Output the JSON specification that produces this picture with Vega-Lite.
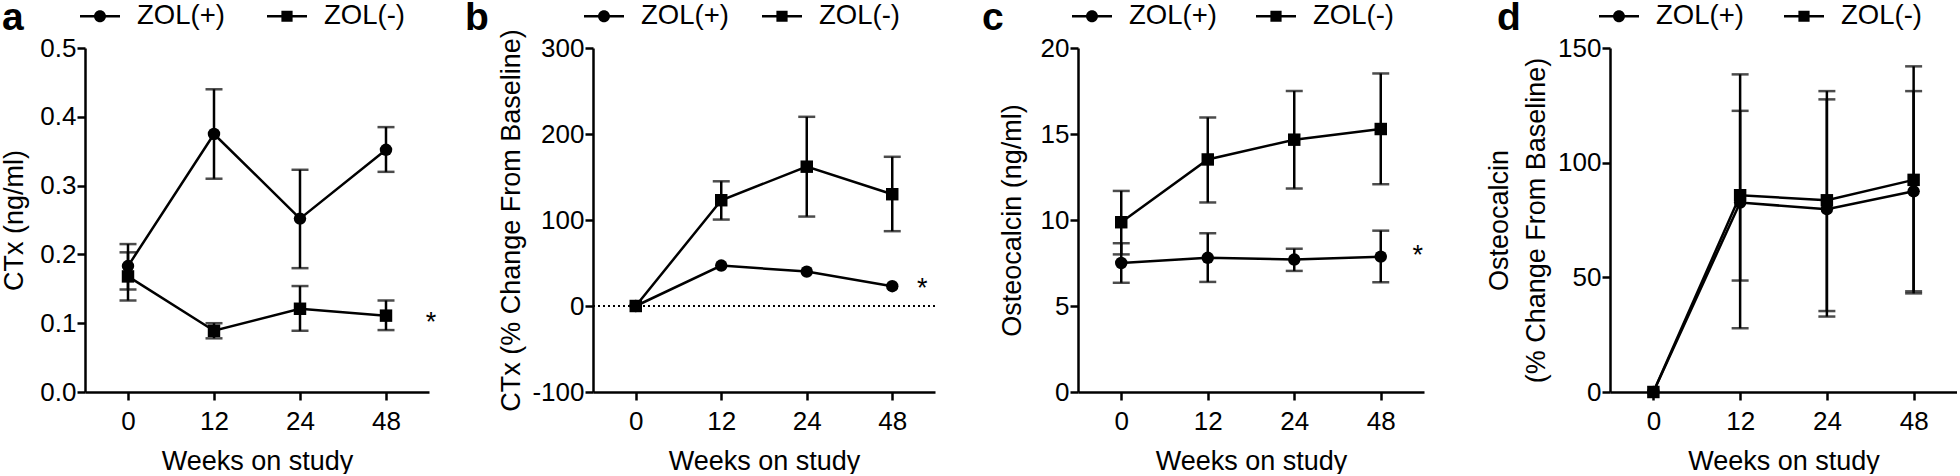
{
  "$schema": "https://vega.github.io/schema/vega-lite/v6.json",
  "background": "white",
  "padding": {"left": 0, "top": -4, "right": 0, "bottom": 0},
  "config": {
    "font": "Liberation Sans",
    "view": {"stroke": null},
    "axis": {"domainColor": "black", "domainWidth": 2.5, "tickColor": "black", "tickWidth": 2.5, "tickSize": 8, "labelFont": "Liberation Sans", "labelFontSize": 26, "labelColor": "black", "titleFont": "Liberation Sans", "titleFontSize": 27, "titleFontWeight": "normal", "titleColor": "black", "grid": false, "labelOverlap": false},
    "legend": {"orient": "none", "direction": "horizontal", "padding": 0, "offset": 0, "titleOrient": "left", "titleAnchor": "end", "titleBaseline": "alphabetic", "titleFont": "Liberation Sans", "titleFontSize": 39, "titleFontWeight": "bold", "titleColor": "black", "symbolSize": 1600, "symbolStrokeWidth": 0, "symbolFillColor": "black", "symbolOpacity": 1, "labelFont": "Liberation Sans", "labelFontSize": 27.5, "labelColor": "black", "labelOffset": 17, "columnPadding": 33}
  },
  "datasets": {
    "a": [
      {"week": 0, "grp": "ZOL(+)", "mean": 0.183, "lo": 0.149, "hi": 0.215},
      {"week": 12, "grp": "ZOL(+)", "mean": 0.375, "lo": 0.31, "hi": 0.44},
      {"week": 24, "grp": "ZOL(+)", "mean": 0.252, "lo": 0.18, "hi": 0.323},
      {"week": 48, "grp": "ZOL(+)", "mean": 0.352, "lo": 0.32, "hi": 0.385},
      {"week": 0, "grp": "ZOL(-)", "mean": 0.168, "lo": 0.133, "hi": 0.203},
      {"week": 12, "grp": "ZOL(-)", "mean": 0.089, "lo": 0.078, "hi": 0.1},
      {"week": 24, "grp": "ZOL(-)", "mean": 0.121, "lo": 0.089, "hi": 0.154},
      {"week": 48, "grp": "ZOL(-)", "mean": 0.111, "lo": 0.09, "hi": 0.133}
    ],
    "b": [
      {"week": 0, "grp": "ZOL(+)", "mean": 0},
      {"week": 12, "grp": "ZOL(+)", "mean": 47},
      {"week": 24, "grp": "ZOL(+)", "mean": 40},
      {"week": 48, "grp": "ZOL(+)", "mean": 23},
      {"week": 0, "grp": "ZOL(-)", "mean": 0},
      {"week": 12, "grp": "ZOL(-)", "mean": 123, "lo": 100.5, "hi": 145},
      {"week": 24, "grp": "ZOL(-)", "mean": 162, "lo": 104, "hi": 220},
      {"week": 48, "grp": "ZOL(-)", "mean": 130, "lo": 87, "hi": 173.5}
    ],
    "c": [
      {"week": 0, "grp": "ZOL(+)", "mean": 7.5, "lo": 6.35, "hi": 8.65},
      {"week": 12, "grp": "ZOL(+)", "mean": 7.8, "lo": 6.4, "hi": 9.23},
      {"week": 24, "grp": "ZOL(+)", "mean": 7.7, "lo": 7.04, "hi": 8.33},
      {"week": 48, "grp": "ZOL(+)", "mean": 7.87, "lo": 6.38, "hi": 9.38},
      {"week": 0, "grp": "ZOL(-)", "mean": 9.87, "lo": 8.0, "hi": 11.69},
      {"week": 12, "grp": "ZOL(-)", "mean": 13.52, "lo": 11.02, "hi": 15.96},
      {"week": 24, "grp": "ZOL(-)", "mean": 14.67, "lo": 11.83, "hi": 17.5},
      {"week": 48, "grp": "ZOL(-)", "mean": 15.29, "lo": 12.08, "hi": 18.52}
    ],
    "d": [
      {"week": 0, "grp": "ZOL(+)", "mean": 0},
      {"week": 12, "grp": "ZOL(+)", "mean": 82.6, "lo": 27.8, "hi": 138.5},
      {"week": 24, "grp": "ZOL(+)", "mean": 79.7, "lo": 32.9, "hi": 127.6},
      {"week": 48, "grp": "ZOL(+)", "mean": 87.5, "lo": 43.9, "hi": 131.2},
      {"week": 0, "grp": "ZOL(-)", "mean": 0},
      {"week": 12, "grp": "ZOL(-)", "mean": 85.8, "lo": 48.6, "hi": 122.6},
      {"week": 24, "grp": "ZOL(-)", "mean": 83.6, "lo": 35.3, "hi": 131.2},
      {"week": 48, "grp": "ZOL(-)", "mean": 92.5, "lo": 43, "hi": 142}
    ]
  },
  "bounds": "flush",
  "spacing": 0,
  "resolve": {"scale": {"shape": "independent"}, "legend": {"shape": "independent"}},
  "hconcat": [
    {
      "width": 508, "height": 344,
      "data": {"name": "a"},
      "resolve": {"scale": {"shape": "independent"}, "legend": {"shape": "independent"}},
      "layer": [
        {"transform": [{"filter": "isValid(datum.lo)"}],
         "mark": {"type": "errorbar", "ticks": {"size": 17, "thickness": 2.5, "color": "black"}, "rule": {"strokeWidth": 2.5, "color": "black"}},
         "encoding": {
           "x": {"field": "week", "type": "ordinal", "sort": [0, 12, 24, 48], "scale": {"type": "point", "padding": 0.5, "range": [0, 344]}, "axis": {"title": "Weeks on study", "labelAngle": 0, "titleY": 77, "titleBaseline": "alphabetic", "labelPadding": 8}},
           "y": {"field": "lo", "type": "quantitative", "scale": {"domain": [0, 0.5], "nice": false, "zero": false}, "axis": {"title": "CTx (ng/ml)", "values": [0, 0.1, 0.2, 0.3, 0.4, 0.5], "format": ".1f", "titleX": -63, "titleBaseline": "alphabetic", "labelPadding": 1}},
           "y2": {"field": "hi"}}},
        {"mark": {"type": "line", "color": "black", "strokeWidth": 2.5},
         "encoding": {
           "x": {"field": "week", "type": "ordinal", "sort": [0, 12, 24, 48], "scale": {"type": "point", "padding": 0.5, "range": [0, 344]}, "axis": {"title": "Weeks on study", "labelAngle": 0, "titleY": 77, "titleBaseline": "alphabetic", "labelPadding": 8}},
           "y": {"field": "mean", "type": "quantitative", "scale": {"domain": [0, 0.5], "nice": false, "zero": false}, "axis": {"title": "CTx (ng/ml)", "values": [0, 0.1, 0.2, 0.3, 0.4, 0.5], "format": ".1f", "titleX": -63, "titleBaseline": "alphabetic", "labelPadding": 1}},
           "detail": {"field": "grp"}}},
        {"mark": {"type": "point", "filled": true, "color": "black", "opacity": 0, "size": 1},
         "encoding": {
           "x": {"field": "week", "type": "ordinal", "sort": [0, 12, 24, 48], "scale": {"type": "point", "padding": 0.5, "range": [0, 344]}, "axis": {"title": "Weeks on study", "labelAngle": 0, "titleY": 77, "titleBaseline": "alphabetic", "labelPadding": 8}},
           "y": {"field": "mean", "type": "quantitative", "scale": {"domain": [0, 0.5], "nice": false, "zero": false}, "axis": {"title": "CTx (ng/ml)", "values": [0, 0.1, 0.2, 0.3, 0.4, 0.5], "format": ".1f", "titleX": -63, "titleBaseline": "alphabetic", "labelPadding": 1}},
           "shape": {"field": "grp", "type": "nominal", "scale": {"domain": ["ZOL(+)", "ZOL(-)"], "range": ["M-1,-0.0625H1V0.0625H-1ZM0.3,0A0.3,0.3,0,1,1,-0.3,0A0.3,0.3,0,1,1,0.3,0Z", "M-1,-0.0625H1V0.0625H-1ZM-0.28,-0.28H0.28V0.28H-0.28Z"]},
             "legend": {"title": "a", "legendX": -83, "legendY": -52, "titlePadding": 56, "columnPadding": 42}}}},
        {"mark": {"type": "point", "filled": true, "color": "black", "opacity": 1, "size": 155},
         "encoding": {
           "x": {"field": "week", "type": "ordinal", "sort": [0, 12, 24, 48], "scale": {"type": "point", "padding": 0.5, "range": [0, 344]}, "axis": {"title": "Weeks on study", "labelAngle": 0, "titleY": 77, "titleBaseline": "alphabetic", "labelPadding": 8}},
           "y": {"field": "mean", "type": "quantitative", "scale": {"domain": [0, 0.5], "nice": false, "zero": false}, "axis": {"title": "CTx (ng/ml)", "values": [0, 0.1, 0.2, 0.3, 0.4, 0.5], "format": ".1f", "titleX": -63, "titleBaseline": "alphabetic", "labelPadding": 1}},
           "shape": {"field": "grp", "type": "nominal", "scale": {"domain": ["ZOL(+)", "ZOL(-)"], "range": ["circle", "square"]}, "legend": null}}},
        {"data": {"values": [{"week": 48, "mean": 0.089, "label": "*"}]},
         "mark": {"type": "text", "fontSize": 27, "dx": 45, "baseline": "alphabetic", "align": "center", "color": "black"},
         "encoding": {
           "x": {"field": "week", "type": "ordinal", "sort": [0, 12, 24, 48], "scale": {"type": "point", "padding": 0.5, "range": [0, 344]}, "axis": {"title": "Weeks on study", "labelAngle": 0, "titleY": 77, "titleBaseline": "alphabetic", "labelPadding": 8}},
           "y": {"field": "mean", "type": "quantitative", "scale": {"domain": [0, 0.5], "nice": false, "zero": false}, "axis": {"title": "CTx (ng/ml)", "values": [0, 0.1, 0.2, 0.3, 0.4, 0.5], "format": ".1f", "titleX": -63, "titleBaseline": "alphabetic", "labelPadding": 1}},
           "text": {"field": "label"}}}
      ]
    },
    {
      "width": 342, "height": 344,
      "data": {"name": "b"},
      "resolve": {"scale": {"shape": "independent"}, "legend": {"shape": "independent"}},
      "layer": [
        {"mark": {"type": "rule", "strokeDash": [2, 3], "strokeWidth": 1.3, "color": "black"},
         "encoding": {"y": {"datum": 0, "type": "quantitative", "scale": {"domain": [-100, 300], "nice": false, "zero": false}, "axis": {"title": "CTx (% Change From Baseline)", "values": [-100, 0, 100, 200, 300], "labelExpr": "'' + datum.value", "titleX": -74, "titleBaseline": "alphabetic", "labelPadding": 1}}}},
        {"transform": [{"filter": "isValid(datum.lo)"}],
         "mark": {"type": "errorbar", "ticks": {"size": 17, "thickness": 2.5, "color": "black"}, "rule": {"strokeWidth": 2.5, "color": "black"}},
         "encoding": {
           "x": {"field": "week", "type": "ordinal", "sort": [0, 12, 24, 48], "scale": {"type": "point", "padding": 0.5, "range": [0, 342]}, "axis": {"title": "Weeks on study", "labelAngle": 0, "titleY": 77, "titleBaseline": "alphabetic", "labelPadding": 8}},
           "y": {"field": "lo", "type": "quantitative", "scale": {"domain": [-100, 300], "nice": false, "zero": false}, "axis": {"title": "CTx (% Change From Baseline)", "values": [-100, 0, 100, 200, 300], "labelExpr": "'' + datum.value", "titleX": -74, "titleBaseline": "alphabetic", "labelPadding": 1}},
           "y2": {"field": "hi"}}},
        {"mark": {"type": "line", "color": "black", "strokeWidth": 2.5},
         "encoding": {
           "x": {"field": "week", "type": "ordinal", "sort": [0, 12, 24, 48], "scale": {"type": "point", "padding": 0.5, "range": [0, 342]}, "axis": {"title": "Weeks on study", "labelAngle": 0, "titleY": 77, "titleBaseline": "alphabetic", "labelPadding": 8}},
           "y": {"field": "mean", "type": "quantitative", "scale": {"domain": [-100, 300], "nice": false, "zero": false}, "axis": {"title": "CTx (% Change From Baseline)", "values": [-100, 0, 100, 200, 300], "labelExpr": "'' + datum.value", "titleX": -74, "titleBaseline": "alphabetic", "labelPadding": 1}},
           "detail": {"field": "grp"}}},
        {"mark": {"type": "point", "filled": true, "color": "black", "opacity": 0, "size": 1},
         "encoding": {
           "x": {"field": "week", "type": "ordinal", "sort": [0, 12, 24, 48], "scale": {"type": "point", "padding": 0.5, "range": [0, 342]}, "axis": {"title": "Weeks on study", "labelAngle": 0, "titleY": 77, "titleBaseline": "alphabetic", "labelPadding": 8}},
           "y": {"field": "mean", "type": "quantitative", "scale": {"domain": [-100, 300], "nice": false, "zero": false}, "axis": {"title": "CTx (% Change From Baseline)", "values": [-100, 0, 100, 200, 300], "labelExpr": "'' + datum.value", "titleX": -74, "titleBaseline": "alphabetic", "labelPadding": 1}},
           "shape": {"field": "grp", "type": "nominal", "scale": {"domain": ["ZOL(+)", "ZOL(-)"], "range": ["M-1,-0.0625H1V0.0625H-1ZM0.3,0A0.3,0.3,0,1,1,-0.3,0A0.3,0.3,0,1,1,0.3,0Z", "M-1,-0.0625H1V0.0625H-1ZM-0.28,-0.28H0.28V0.28H-0.28Z"]},
             "legend": {"title": "b", "legendX": -128, "legendY": -52, "titlePadding": 95, "columnPadding": 33}}}},
        {"mark": {"type": "point", "filled": true, "color": "black", "opacity": 1, "size": 155},
         "encoding": {
           "x": {"field": "week", "type": "ordinal", "sort": [0, 12, 24, 48], "scale": {"type": "point", "padding": 0.5, "range": [0, 342]}, "axis": {"title": "Weeks on study", "labelAngle": 0, "titleY": 77, "titleBaseline": "alphabetic", "labelPadding": 8}},
           "y": {"field": "mean", "type": "quantitative", "scale": {"domain": [-100, 300], "nice": false, "zero": false}, "axis": {"title": "CTx (% Change From Baseline)", "values": [-100, 0, 100, 200, 300], "labelExpr": "'' + datum.value", "titleX": -74, "titleBaseline": "alphabetic", "labelPadding": 1}},
           "shape": {"field": "grp", "type": "nominal", "scale": {"domain": ["ZOL(+)", "ZOL(-)"], "range": ["circle", "square"]}, "legend": null}}},
        {"data": {"values": [{"week": 48, "mean": 10, "label": "*"}]},
         "mark": {"type": "text", "fontSize": 27, "dx": 30, "baseline": "alphabetic", "align": "center", "color": "black"},
         "encoding": {
           "x": {"field": "week", "type": "ordinal", "sort": [0, 12, 24, 48], "scale": {"type": "point", "padding": 0.5, "range": [0, 342]}, "axis": {"title": "Weeks on study", "labelAngle": 0, "titleY": 77, "titleBaseline": "alphabetic", "labelPadding": 8}},
           "y": {"field": "mean", "type": "quantitative", "scale": {"domain": [-100, 300], "nice": false, "zero": false}, "axis": {"title": "CTx (% Change From Baseline)", "values": [-100, 0, 100, 200, 300], "labelExpr": "'' + datum.value", "titleX": -74, "titleBaseline": "alphabetic", "labelPadding": 1}},
           "text": {"field": "label"}}}
      ]
    },
    {
      "width": 675, "height": 344,
      "data": {"name": "c"},
      "resolve": {"scale": {"shape": "independent"}, "legend": {"shape": "independent"}},
      "layer": [
        {"transform": [{"filter": "isValid(datum.lo)"}],
         "mark": {"type": "errorbar", "ticks": {"size": 17, "thickness": 2.5, "color": "black"}, "rule": {"strokeWidth": 2.5, "color": "black"}},
         "encoding": {
           "x": {"field": "week", "type": "ordinal", "sort": [0, 12, 24, 48], "scale": {"type": "point", "padding": 0.5, "range": [143, 489]}, "axis": {"title": "Weeks on study", "labelAngle": 0, "titleY": 77, "titleBaseline": "alphabetic", "labelPadding": 8}},
           "y": {"field": "lo", "type": "quantitative", "scale": {"domain": [0, 20], "nice": false, "zero": false}, "axis": {"title": "Osteocalcin (ng/ml)", "values": [0, 5, 10, 15, 20], "titleX": -58, "titleBaseline": "alphabetic", "labelPadding": 1, "offset": -143}},
           "y2": {"field": "hi"}}},
        {"mark": {"type": "line", "color": "black", "strokeWidth": 2.5},
         "encoding": {
           "x": {"field": "week", "type": "ordinal", "sort": [0, 12, 24, 48], "scale": {"type": "point", "padding": 0.5, "range": [143, 489]}, "axis": {"title": "Weeks on study", "labelAngle": 0, "titleY": 77, "titleBaseline": "alphabetic", "labelPadding": 8}},
           "y": {"field": "mean", "type": "quantitative", "scale": {"domain": [0, 20], "nice": false, "zero": false}, "axis": {"title": "Osteocalcin (ng/ml)", "values": [0, 5, 10, 15, 20], "titleX": -58, "titleBaseline": "alphabetic", "labelPadding": 1, "offset": -143}},
           "detail": {"field": "grp"}}},
        {"mark": {"type": "point", "filled": true, "color": "black", "opacity": 0, "size": 1},
         "encoding": {
           "x": {"field": "week", "type": "ordinal", "sort": [0, 12, 24, 48], "scale": {"type": "point", "padding": 0.5, "range": [143, 489]}, "axis": {"title": "Weeks on study", "labelAngle": 0, "titleY": 77, "titleBaseline": "alphabetic", "labelPadding": 8}},
           "y": {"field": "mean", "type": "quantitative", "scale": {"domain": [0, 20], "nice": false, "zero": false}, "axis": {"title": "Osteocalcin (ng/ml)", "values": [0, 5, 10, 15, 20], "titleX": -58, "titleBaseline": "alphabetic", "labelPadding": 1, "offset": -143}},
           "shape": {"field": "grp", "type": "nominal", "scale": {"domain": ["ZOL(+)", "ZOL(-)"], "range": ["M-1,-0.0625H1V0.0625H-1ZM0.3,0A0.3,0.3,0,1,1,-0.3,0A0.3,0.3,0,1,1,0.3,0Z", "M-1,-0.0625H1V0.0625H-1ZM-0.28,-0.28H0.28V0.28H-0.28Z"]},
             "legend": {"title": "c", "legendX": 47, "legendY": -52, "titlePadding": 68, "columnPadding": 39}}}},
        {"mark": {"type": "point", "filled": true, "color": "black", "opacity": 1, "size": 155},
         "encoding": {
           "x": {"field": "week", "type": "ordinal", "sort": [0, 12, 24, 48], "scale": {"type": "point", "padding": 0.5, "range": [143, 489]}, "axis": {"title": "Weeks on study", "labelAngle": 0, "titleY": 77, "titleBaseline": "alphabetic", "labelPadding": 8}},
           "y": {"field": "mean", "type": "quantitative", "scale": {"domain": [0, 20], "nice": false, "zero": false}, "axis": {"title": "Osteocalcin (ng/ml)", "values": [0, 5, 10, 15, 20], "titleX": -58, "titleBaseline": "alphabetic", "labelPadding": 1, "offset": -143}},
           "shape": {"field": "grp", "type": "nominal", "scale": {"domain": ["ZOL(+)", "ZOL(-)"], "range": ["circle", "square"]}, "legend": null}}},
        {"data": {"values": [{"week": 48, "mean": 7.45, "label": "*"}]},
         "mark": {"type": "text", "fontSize": 27, "dx": 37, "baseline": "alphabetic", "align": "center", "color": "black"},
         "encoding": {
           "x": {"field": "week", "type": "ordinal", "sort": [0, 12, 24, 48], "scale": {"type": "point", "padding": 0.5, "range": [143, 489]}, "axis": {"title": "Weeks on study", "labelAngle": 0, "titleY": 77, "titleBaseline": "alphabetic", "labelPadding": 8}},
           "y": {"field": "mean", "type": "quantitative", "scale": {"domain": [0, 20], "nice": false, "zero": false}, "axis": {"title": "Osteocalcin (ng/ml)", "values": [0, 5, 10, 15, 20], "titleX": -58, "titleBaseline": "alphabetic", "labelPadding": 1, "offset": -143}},
           "text": {"field": "label"}}}
      ]
    },
    {
      "width": 347, "height": 344,
      "data": {"name": "d"},
      "resolve": {"scale": {"shape": "independent"}, "legend": {"shape": "independent"}},
      "layer": [
        {"transform": [{"filter": "isValid(datum.lo)"}],
         "mark": {"type": "errorbar", "ticks": {"size": 17, "thickness": 2.5, "color": "black"}, "rule": {"strokeWidth": 2.5, "color": "black"}},
         "encoding": {
           "x": {"field": "week", "type": "ordinal", "sort": [0, 12, 24, 48], "scale": {"type": "point", "padding": 0.5, "range": [0, 347]}, "axis": {"title": "Weeks on study", "labelAngle": 0, "titleY": 77, "titleBaseline": "alphabetic", "labelPadding": 8}},
           "y": {"field": "lo", "type": "quantitative", "scale": {"domain": [0, 150], "nice": false, "zero": false}, "axis": {"title": ["Osteocalcin", "(% Change From Baseline)"], "values": [0, 50, 100, 150], "titleX": -103, "titleLineHeight": 37, "titleBaseline": "alphabetic", "labelPadding": 1}},
           "y2": {"field": "hi"}}},
        {"mark": {"type": "line", "color": "black", "strokeWidth": 2.5},
         "encoding": {
           "x": {"field": "week", "type": "ordinal", "sort": [0, 12, 24, 48], "scale": {"type": "point", "padding": 0.5, "range": [0, 347]}, "axis": {"title": "Weeks on study", "labelAngle": 0, "titleY": 77, "titleBaseline": "alphabetic", "labelPadding": 8}},
           "y": {"field": "mean", "type": "quantitative", "scale": {"domain": [0, 150], "nice": false, "zero": false}, "axis": {"title": ["Osteocalcin", "(% Change From Baseline)"], "values": [0, 50, 100, 150], "titleX": -103, "titleLineHeight": 37, "titleBaseline": "alphabetic", "labelPadding": 1}},
           "detail": {"field": "grp"}}},
        {"mark": {"type": "point", "filled": true, "color": "black", "opacity": 0, "size": 1},
         "encoding": {
           "x": {"field": "week", "type": "ordinal", "sort": [0, 12, 24, 48], "scale": {"type": "point", "padding": 0.5, "range": [0, 347]}, "axis": {"title": "Weeks on study", "labelAngle": 0, "titleY": 77, "titleBaseline": "alphabetic", "labelPadding": 8}},
           "y": {"field": "mean", "type": "quantitative", "scale": {"domain": [0, 150], "nice": false, "zero": false}, "axis": {"title": ["Osteocalcin", "(% Change From Baseline)"], "values": [0, 50, 100, 150], "titleX": -103, "titleLineHeight": 37, "titleBaseline": "alphabetic", "labelPadding": 1}},
           "shape": {"field": "grp", "type": "nominal", "scale": {"domain": ["ZOL(+)", "ZOL(-)"], "range": ["M-1,-0.0625H1V0.0625H-1ZM0.3,0A0.3,0.3,0,1,1,-0.3,0A0.3,0.3,0,1,1,0.3,0Z", "M-1,-0.0625H1V0.0625H-1ZM-0.28,-0.28H0.28V0.28H-0.28Z"]},
             "legend": {"title": "d", "legendX": -113, "legendY": -52, "titlePadding": 78, "columnPadding": 40}}}},
        {"mark": {"type": "point", "filled": true, "color": "black", "opacity": 1, "size": 155},
         "encoding": {
           "x": {"field": "week", "type": "ordinal", "sort": [0, 12, 24, 48], "scale": {"type": "point", "padding": 0.5, "range": [0, 347]}, "axis": {"title": "Weeks on study", "labelAngle": 0, "titleY": 77, "titleBaseline": "alphabetic", "labelPadding": 8}},
           "y": {"field": "mean", "type": "quantitative", "scale": {"domain": [0, 150], "nice": false, "zero": false}, "axis": {"title": ["Osteocalcin", "(% Change From Baseline)"], "values": [0, 50, 100, 150], "titleX": -103, "titleLineHeight": 37, "titleBaseline": "alphabetic", "labelPadding": 1}},
           "shape": {"field": "grp", "type": "nominal", "scale": {"domain": ["ZOL(+)", "ZOL(-)"], "range": ["circle", "square"]}, "legend": null}}}
      ]
    }
  ]
}
